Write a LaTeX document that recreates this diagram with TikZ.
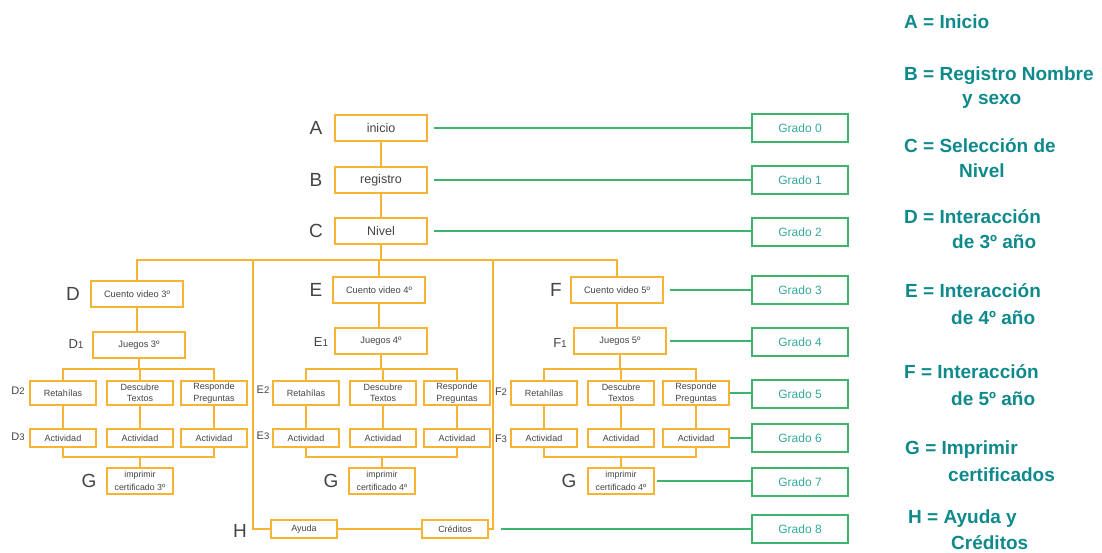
\documentclass[tikz,border=0pt]{standalone}
\usepackage{fontspec}
\setmainfont{Liberation Sans}
\definecolor{org}{HTML}{F7B334}
\definecolor{grn}{HTML}{3DB36E}
\definecolor{gtxt}{HTML}{35A99C}
\definecolor{leg}{HTML}{0F8A8C}
\definecolor{txt}{HTML}{444444}
\begin{document}
\begin{tikzpicture}[x=1pt,y=-1pt,
 obox/.style={draw=org,line width=1.4pt,fill=white,text=txt,inner sep=1pt,align=center,font=\fontsize{9}{11.5}\selectfont},
 big/.style={obox,minimum width=92pt,minimum height=26pt,font=\fontsize{12.5}{14}\selectfont},
 mid/.style={obox,minimum width=92pt,minimum height=26pt,font=\fontsize{9.3}{10}\selectfont},
 sm/.style={obox,minimum width=66pt,minimum height=24pt},
 act/.style={obox,minimum width=66pt,minimum height=18pt},
 cert/.style={obox,minimum width=66pt,minimum height=26pt,font=\fontsize{8.8}{12.5}\selectfont},
 hb/.style={obox,minimum width=66pt,minimum height=18pt},
 gbox/.style={draw=grn,line width=1.4pt,text=gtxt,minimum width=96pt,minimum height=28pt,font=\fontsize{12}{13}\selectfont},
 oline/.style={draw=org,line width=1.4pt},
 gline/.style={draw=grn,line width=1.3pt},
 lab/.style={text=txt,font=\fontsize{19}{20}\selectfont,inner sep=0pt},
 sublab/.style={text=txt,font=\fontsize{13}{14}\selectfont,inner sep=0pt},
 smlab/.style={text=txt,font=\fontsize{11}{12}\selectfont,inner sep=0pt},
 legend/.style={text=leg,anchor=base west,font=\bfseries\fontsize{19}{20}\selectfont,inner sep=0pt}]
\useasboundingbox[fill=white] (0,0) rectangle (1102,552);

% top
\node[big] (A) at (381,128) {inicio};
\node[big] (B) at (381,180) {registro};
\node[big] (C) at (381,231) {Nivel};
\node[lab] (lA) at (316,128) {A};
\node[lab] (lB) at (316,180) {B};
\node[lab] (lC) at (316,231) {C};

% D column
\node[mid] (Dc) at (137,294) {Cuento video 3º};
\node[mid] (Dj) at (139,345) {Juegos 3º};
\node[sm] (Dr) at (63,393) {Retahílas};
\node[sm] (Dd) at (140,393) {Descubre\\Textos};
\node[sm] (Dp) at (214,393) {Responde\\Preguntas};
\node[act] (Da1) at (63,438) {Actividad};
\node[act] (Da2) at (140,438) {Actividad};
\node[act] (Da3) at (214,438) {Actividad};
\node[cert] (Dg) at (140,481) {imprimir\\certificado 3º};
\node[lab] (lD) at (73,294) {D};
\node[sublab] (lD1) at (76,344) {D{\fontsize{10}{10}\selectfont 1}};
\node[smlab] (lD2) at (18,391) {D{\fontsize{9.5}{10}\selectfont 2}};
\node[smlab] (lD3) at (18,437) {D{\fontsize{9.5}{10}\selectfont 3}};
\node[lab] (lDG) at (89,481) {G};

% E column
\node[mid] (Ec) at (379,290) {Cuento video 4º};
\node[mid] (Ej) at (381,341) {Juegos 4º};
\node[sm] (Er) at (306,393) {Retahílas};
\node[sm] (Ed) at (383,393) {Descubre\\Textos};
\node[sm] (Ep) at (457,393) {Responde\\Preguntas};
\node[act] (Ea1) at (306,438) {Actividad};
\node[act] (Ea2) at (383,438) {Actividad};
\node[act] (Ea3) at (457,438) {Actividad};
\node[cert] (Eg) at (382,481) {imprimir\\certificado 4º};
\node[lab] (lE) at (316,290) {E};
\node[sublab] (lE1) at (321,342) {E{\fontsize{10}{10}\selectfont 1}};
\node[smlab] (lE2) at (263,390) {E{\fontsize{9.5}{10}\selectfont 2}};
\node[smlab] (lE3) at (263,436) {E{\fontsize{9.5}{10}\selectfont 3}};
\node[lab] (lEG) at (331,481) {G};

% F column
\node[mid] (Fc) at (617,290) {Cuento video 5º};
\node[mid] (Fj) at (620,341) {Juegos 5º};
\node[sm] (Fr) at (544,393) {Retahílas};
\node[sm] (Fd) at (621,393) {Descubre\\Textos};
\node[sm] (Fp) at (696,393) {Responde\\Preguntas};
\node[act] (Fa1) at (544,438) {Actividad};
\node[act] (Fa2) at (621,438) {Actividad};
\node[act] (Fa3) at (696,438) {Actividad};
\node[cert] (Fg) at (621,481) {imprimir\\certificado 4º};
\node[lab] (lF) at (556,290) {F};
\node[sublab] (lF1) at (560,343) {F{\fontsize{10}{10}\selectfont 1}};
\node[smlab] (lF2) at (501,392) {F{\fontsize{9.5}{10}\selectfont 2}};
\node[smlab] (lF3) at (501,439) {F{\fontsize{9.5}{10}\selectfont 3}};
\node[lab] (lFG) at (569,481) {G};

% H
\node[hb] (Ay) at (304,529) {Ayuda};
\node[hb] (Cr) at (455,529) {Créditos};
\node[lab] (lH) at (240,531) {H};
\coordinate (hl) at (253,260);
\coordinate (hr) at (493,260);

% Grado boxes
\node[gbox] (G0) at (800,128) {Grado 0};
\node[gbox] (G1) at (800,180) {Grado 1};
\node[gbox] (G2) at (800,232) {Grado 2};
\node[gbox] (G3) at (800,290) {Grado 3};
\node[gbox] (G4) at (800,342) {Grado 4};
\node[gbox] (G5) at (800,394) {Grado 5};
\node[gbox] (G6) at (800,438) {Grado 6};
\node[gbox] (G7) at (800,482) {Grado 7};
\node[gbox] (G8) at (800,529) {Grado 8};

% orange connectors
\draw[oline] (A.south) -- (B.north);
\draw[oline] (B.south) -- (C.north);
\draw[oline] (C.south) -- (C.south |- 0,260);
\draw[oline] (Dc.north) -- (Dc.north |- 0,260) -- (Fc.north |- 0,260) -- (Fc.north);
\draw[oline] (Ec.north) -- (Ec.north |- 0,260);
\draw[oline] (hl) |- (Ay.west);
\draw[oline] (Ay.east) -- (Cr.west);
\draw[oline] (Cr.east) -| (hr);

\foreach \c/\r/\d/\p/\aa/\ab/\ac/\g in {D/Dr/Dd/Dp/Da1/Da2/Da3/Dg, E/Er/Ed/Ep/Ea1/Ea2/Ea3/Eg, F/Fr/Fd/Fp/Fa1/Fa2/Fa3/Fg}{
  \draw[oline] (\c c.south) -- (\c c.south |- \c j.north);
  \draw[oline] (\c j.south) -- (\c j.south |- 0,369);
  \draw[oline] (\r.north) -- (\r.north |- 0,369) -- (\p.north |- 0,369) -- (\p.north);
  \draw[oline] (\d.north) -- (\d.north |- 0,369);
  \draw[oline] (\r.south) -- (\r.south |- \aa.north);
  \draw[oline] (\d.south) -- (\d.south |- \ab.north);
  \draw[oline] (\p.south) -- (\p.south |- \ac.north);
  \draw[oline] (\aa.south) -- (\aa.south |- 0,457) -- (\ac.south |- 0,457) -- (\ac.south);
  \draw[oline] (\g.north) -- (\g.north |- 0,457);
}

% green connectors
\draw[gline] ([xshift=6pt]A.east) -- (G0.west |- A.east);
\draw[gline] ([xshift=6pt]B.east) -- (G1.west |- B.east);
\draw[gline] ([xshift=6pt]C.east) -- (G2.west |- C.east);
\draw[gline] ([xshift=6pt]Fc.east) -- (G3.west |- Fc.east);
\draw[gline] ([xshift=3pt]Fj.east) -- (G4.west |- Fj.east);
\draw[gline] (Fp.east) -- (G5.west |- Fp.east);
\draw[gline] (Fa3.east) -- (G6.west |- Fa3.east);
\draw[gline] ([xshift=2pt]Fg.east) -- (G7.west |- Fg.east);
\draw[gline] ([xshift=8pt]hr |- Cr.east) -- (G8.west |- Cr.east);

% legend
\node[legend] (k1) at (904,28) {A = Inicio};
\node[legend] (k2) at (904,80) {B = Registro Nombre};
\node[legend] (k2b) at (962,104) {y sexo};
\node[legend] (k3) at (904,152) {C = Selección de};
\node[legend] (k3b) at (959,177) {Nivel};
\node[legend] (k4) at (904,223) {D = Interacción};
\node[legend] (k4b) at (952,248) {de 3º año};
\node[legend] (k5) at (905,297) {E = Interacción};
\node[legend] (k5b) at (951,324) {de 4º año};
\node[legend] (k6) at (904,378) {F = Interacción};
\node[legend] (k6b) at (951,405) {de 5º año};
\node[legend] (k7) at (905,454) {G = Imprimir};
\node[legend] (k7b) at (948,481) {certificados};
\node[legend] (k8) at (908,523) {H = Ayuda y};
\node[legend] (k8b) at (951,549) {Créditos};
\end{tikzpicture}
\end{document}
